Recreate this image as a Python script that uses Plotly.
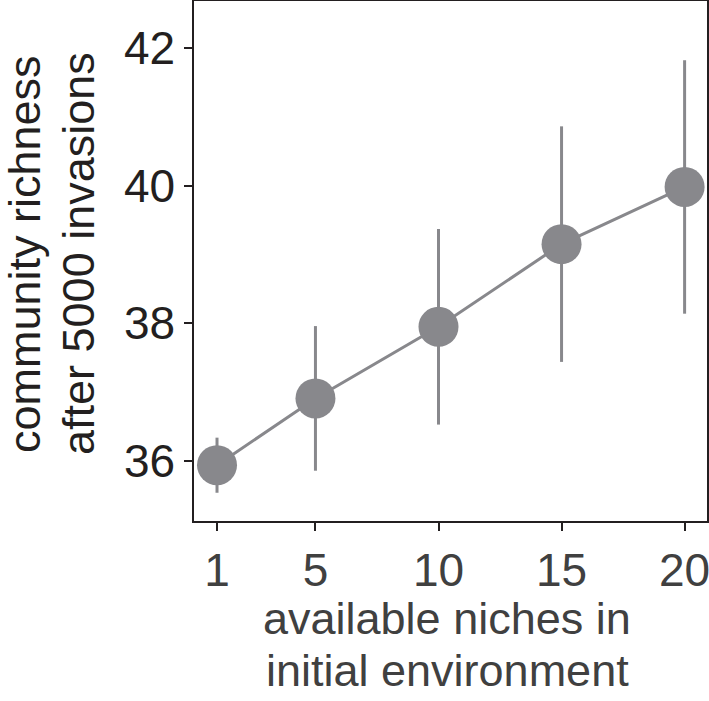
import plotly.graph_objects as go

niches = [1, 5, 10, 15, 20]
richness_mean = [35.94, 36.91, 37.95, 39.15, 39.98]
richness_err = [0.40, 1.05, 1.42, 1.71, 1.84]
x_tick_labels = ["1", "5", "10", "15", "20"]
y_tick_vals = [36, 38, 40, 42]
y_title_lines = ["community richness", "after 5000 invasions"]
x_title_lines = ["available niches in", "initial environment"]

W, H = 709, 701
ML, MR, MT, MB = 194, 2, 1, 180
PW, PH = W - ML - MR, H - MT - MB

def px_to_paper_x(px):
    return (px - ML) / PW

def px_to_paper_y(py):
    return (H - MB - py) / PH

grey = "#88888c"
dark = "#231f20"
xgrey = "#404040"
font = "Liberation Sans, Arial, sans-serif"

fig = go.Figure()
fig.add_trace(go.Scatter(
    x=niches, y=richness_mean,
    mode="lines+markers",
    line=dict(color=grey, width=3),
    marker=dict(color=grey, size=40, line=dict(width=0)),
    error_y=dict(type="data", array=richness_err, visible=True,
                 color=grey, thickness=3, width=0),
    showlegend=False,
))

annotations = []
for i, (txt, cx) in enumerate(zip(y_title_lines, [24, 78])):
    annotations.append(dict(
        text=txt, xref="paper", yref="paper",
        x=px_to_paper_x(cx), y=px_to_paper_y(254),
        xanchor="center", yanchor="middle", textangle=-90,
        showarrow=False, font=dict(family=font, size=45, color=dark)))
for txt, cy in zip(x_title_lines, [618, 671]):
    annotations.append(dict(
        text=txt, xref="paper", yref="paper",
        x=px_to_paper_x(447), y=px_to_paper_y(cy),
        xanchor="center", yanchor="middle",
        showarrow=False, font=dict(family=font, size=45, color=xgrey)))

fig.update_layout(
    width=W, height=H,
    margin=dict(l=ML, r=MR, t=MT, b=MB, autoexpand=False),
    paper_bgcolor="white", plot_bgcolor="white",
    annotations=annotations,
    xaxis=dict(
        range=[0.065, 20.91], tickvals=niches, ticktext=x_tick_labels,
        showgrid=False, zeroline=False, automargin=False,
        showline=True, mirror=True, linecolor=dark, linewidth=1.5,
        ticks="outside", ticklen=8, tickwidth=1.5, tickcolor=dark,
        ticklabeloverflow="allow",
        tickfont=dict(family=font, size=46, color=xgrey),
    ),
    yaxis=dict(
        range=[35.13, 42.68], tickvals=y_tick_vals,
        showgrid=False, zeroline=False, automargin=False,
        showline=True, mirror=True, linecolor=dark, linewidth=1.5,
        ticks="outside", ticklen=8, tickwidth=1.5, tickcolor=dark,
        ticklabeloverflow="allow",
        tickfont=dict(family=font, size=46, color=dark),
    ),
)

fig.write_html(
    "out.html",
    config={"displayModeBar": False},
    post_script="document.body.style.margin='0';document.body.style.overflow='hidden';",
)
